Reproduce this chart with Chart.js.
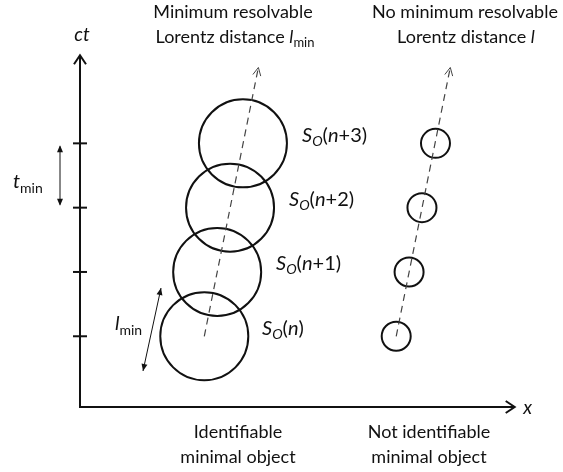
<!DOCTYPE html>
<html>
<head>
<meta charset="utf-8">
<script src="https://cdn.jsdelivr.net/npm/chart.js@4"></script>
<style>
  html,body{margin:0;padding:0;background:#fff;}
  #wrap{width:563px;height:472px;}
</style>
</head>
<body>
<div id="wrap"><canvas id="c" width="563" height="472"></canvas></div>
<script>
// event times (ct) of the tick marks, one per observed object S_O(n..n+3)
const ctTicks = [1.1, 2.1, 3.1, 4.1];
const stepLabels = ['n', 'n+1', 'n+2', 'n+3'];
// x positions of the object along the two world lines
const identX = [1.93, 2.13, 2.33, 2.53];
const unidentX = [4.91, 5.11, 5.31, 5.52];
// world lines (start, arrow end)
const lineAX = [1.93, 2.77], lineAY = [1.1, 5.28];
const lineBX = [4.91, 5.75], lineBY = [1.1, 5.28];
// axis extents
const xAxisEnd = 6.75, yAxisEnd = 5.47;

const FONT = 'Lato';
const INK = '#111';

function pts(xs, ys) { return xs.map((x, i) => ({x: x, y: ys[i]})); }

function drawRuns(ctx, parts, x, y, size, align) {
  // parts: [text, style]  style: n normal, i italic, s sub, si sub italic
  const fontOf = st => (st.indexOf('i') >= 0 ? 'italic ' : '') + (st.indexOf('s') >= 0 ? Math.round(size * 0.72) : size) + 'px ' + FONT;
  let w = 0;
  parts.forEach(p => { ctx.font = fontOf(p[1]); w += ctx.measureText(p[0]).width; });
  let cx = align === 'center' ? x - w / 2 : x;
  ctx.textAlign = 'left';
  ctx.textBaseline = 'middle';
  parts.forEach(p => {
    ctx.font = fontOf(p[1]);
    ctx.fillText(p[0], cx, p[1].indexOf('s') >= 0 ? y + size * 0.3 : y);
    cx += ctx.measureText(p[0]).width;
  });
}

function openHead(ctx, x1, y1, x2, y2, len, half) {
  const a = Math.atan2(y2 - y1, x2 - x1);
  ctx.beginPath();
  ctx.moveTo(x2 - len * Math.cos(a) + half * Math.sin(a), y2 - len * Math.sin(a) - half * Math.cos(a));
  ctx.lineTo(x2, y2);
  ctx.lineTo(x2 - len * Math.cos(a) - half * Math.sin(a), y2 - len * Math.sin(a) + half * Math.cos(a));
  ctx.stroke();
}

function solidHead(ctx, x1, y1, x2, y2, len, half) {
  const a = Math.atan2(y2 - y1, x2 - x1);
  ctx.beginPath();
  ctx.moveTo(x2, y2);
  ctx.lineTo(x2 - len * Math.cos(a) + half * Math.sin(a), y2 - len * Math.sin(a) - half * Math.cos(a));
  ctx.lineTo(x2 - len * Math.cos(a) - half * Math.sin(a), y2 - len * Math.sin(a) + half * Math.cos(a));
  ctx.closePath();
  ctx.fill();
}

const diagram = {
  id: 'diagram',
  afterDatasetsDraw(chart) {
    const ctx = chart.ctx, xs = chart.scales.x, ys = chart.scales.y;
    const X = v => xs.getPixelForValue(v), Y = v => ys.getPixelForValue(v);
    ctx.save();
    ctx.strokeStyle = INK; ctx.fillStyle = INK;

    // axes
    ctx.lineWidth = 2;
    ctx.beginPath();
    ctx.moveTo(X(0), Y(yAxisEnd)); ctx.lineTo(X(0), Y(0)); ctx.lineTo(X(xAxisEnd), Y(0));
    ctx.stroke();
    openHead(ctx, X(0), Y(0), X(0), Y(yAxisEnd), 9, 6);
    openHead(ctx, X(0), Y(0), X(xAxisEnd), Y(0), 9, 6);
    ctTicks.forEach(t => {
      ctx.beginPath(); ctx.moveTo(X(0) - 7, Y(t)); ctx.lineTo(X(0) + 7, Y(t)); ctx.stroke();
    });

    // world line arrow heads
    ctx.lineWidth = 1;
    ctx.strokeStyle = '#444';
    openHead(ctx, X(lineAX[0]), Y(lineAY[0]), X(lineAX[1]), Y(lineAY[1]), 8, 4);
    openHead(ctx, X(lineBX[0]), Y(lineBY[0]), X(lineBX[1]), Y(lineBY[1]), 8, 4);

    // t_min dimension arrow
    ctx.strokeStyle = INK; ctx.fillStyle = INK;
    const tx = 60;
    ctx.beginPath(); ctx.moveTo(tx, Y(ctTicks[3]) + 3); ctx.lineTo(tx, Y(ctTicks[2]) - 3); ctx.stroke();
    solidHead(ctx, tx, Y(ctTicks[2]), tx, Y(ctTicks[3]) + 2, 7, 3);
    solidHead(ctx, tx, Y(ctTicks[3]), tx, Y(ctTicks[2]) - 2, 7, 3);

    // l_min dimension arrow (parallel to world line)
    const ax1 = 161, ay1 = 288, ax2 = 143, ay2 = 371;
    ctx.beginPath(); ctx.moveTo(ax1, ay1); ctx.lineTo(ax2, ay2); ctx.stroke();
    solidHead(ctx, ax2, ay2, ax1, ay1, 7, 3);
    solidHead(ctx, ax1, ay1, ax2, ay2, 7, 3);

    // text
    const fs = 18;
    drawRuns(ctx, [['ct', 'i']], X(0) + 2, 35, 19, 'center');
    drawRuns(ctx, [['x', 'i']], X(xAxisEnd) + 13, Y(0) + 1, 19, 'center');
    drawRuns(ctx, [['t', 'i'], ['min', 's']], 13, 182, 20, 'left');
    drawRuns(ctx, [['l', 'i'], ['min', 's']], 115, 324, 20, 'left');

    drawRuns(ctx, [['Minimum resolvable', 'n']], 233, 12, fs, 'center');
    drawRuns(ctx, [['Lorentz distance ', 'n'], ['l', 'i'], ['min', 's']], 235, 37, fs, 'center');
    drawRuns(ctx, [['No minimum resolvable', 'n']], 465, 12, fs, 'center');
    drawRuns(ctx, [['Lorentz distance ', 'n'], ['l', 'i']], 466, 37, fs, 'center');

    drawRuns(ctx, [['Identifiable', 'n']], 238, 432, fs, 'center');
    drawRuns(ctx, [['minimal object', 'n']], 238, 457, fs, 'center');
    drawRuns(ctx, [['Not identifiable', 'n']], 429, 432, fs, 'center');
    drawRuns(ctx, [['minimal object', 'n']], 429, 457, fs, 'center');

    const labLeft = [262, 276, 289, 302];
    stepLabels.forEach((s, i) => {
      drawRuns(ctx, [['S', 'i'], ['O', 'si'], ['(', 'n'], ['n', 'i'], [s.slice(1) + ')', 'n']],
        labLeft[i], Y(ctTicks[i]) - 8, 20, 'left');
    });
    ctx.restore();
  }
};

const circle = {
  showLine: false, pointStyle: 'circle', pointBackgroundColor: 'rgba(0,0,0,0)',
  pointBorderColor: INK, pointBorderWidth: 2, pointHoverRadius: 0
};
const dashed = {
  showLine: true, pointRadius: 0, borderColor: '#444', borderWidth: 1.2, borderDash: [7, 5], fill: false
};

new Chart(document.getElementById('c'), {
  type: 'scatter',
  data: {
    datasets: [
      Object.assign({label: 'world line A', data: pts(lineAX, lineAY)}, dashed),
      Object.assign({label: 'world line B', data: pts(lineBX, lineBY)}, dashed),
      Object.assign({label: 'identifiable', data: pts(identX, ctTicks), pointRadius: 44}, circle),
      Object.assign({label: 'not identifiable', data: pts(unidentX, ctTicks), pointRadius: 14.5}, circle)
    ]
  },
  options: {
    responsive: false, animation: false, devicePixelRatio: 1,
    layout: {padding: 0, autoPadding: false},
    plugins: {legend: {display: false}, tooltip: {enabled: false}},
    events: [],
    scales: {
      x: {type: 'linear', display: false, min: -1.2422, max: 7.5},
      y: {type: 'linear', display: false, min: -1.0107, max: 6.3292}
    }
  },
  plugins: [diagram]
});
</script>
</body>
</html>
